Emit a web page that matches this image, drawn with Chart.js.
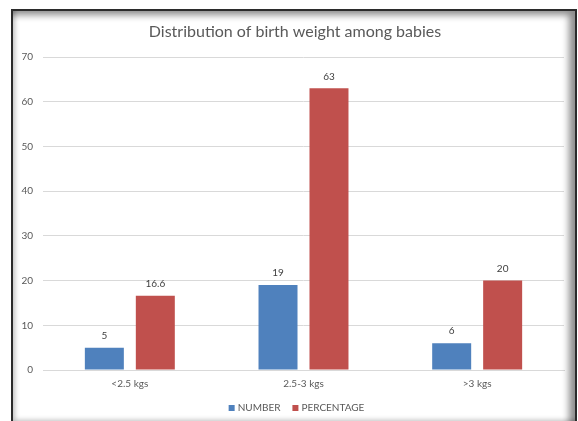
<!DOCTYPE html>
<html>
<head>
<meta charset="utf-8">
<script src="https://cdn.jsdelivr.net/npm/chart.js@4"></script>
<style>
  html, body { margin: 0; padding: 0; background: #fff; }
  #wrap { position: relative; width: 578px; height: 421px; overflow: hidden; }
  #c { position: absolute; left: 0; top: 0; }
  #frame {
    position: absolute; left: 11px; top: 9px; width: 562px; height: 411px;
    border: 2px solid #2b2b2b;
    box-shadow: inset -8px 6px 7px -2px rgba(0,0,0,0.45), inset 4px -4px 5px -2px rgba(0,0,0,0.25);
    pointer-events: none;
  }
</style>
</head>
<body>
<div id="wrap">
  <canvas id="c" width="578" height="421"></canvas>
  <div id="frame"></div>
</div>
<script>
// Birth weight groups and the two measured series
const categories = ['<2.5 kgs', '2.5-3 kgs', '>3 kgs'];
const numberValues = [5, 19, 6];
const percentageValues = [16.6, 63, 20];
const seriesNames = ['NUMBER', 'PERCENTAGE'];
const yTicks = [0, 10, 20, 30, 40, 50, 60, 70];
const chartTitle = 'Distribution of birth weight among babies';

const FONT = 'Lato, "Open Sans", sans-serif';
const TEXT = '#595959';

// Heading centred on the framed panel
const panelTitle = {
  id: 'panelTitle',
  afterDraw(chart) {
    const ctx = chart.ctx;
    ctx.save();
    ctx.font = '16px ' + FONT;
    ctx.fillStyle = TEXT;
    ctx.textAlign = 'center';
    ctx.textBaseline = 'middle';
    ctx.fillText(chartTitle, 295, 32);
    ctx.restore();
  }
};

// Compact legend row under the axis: small square swatch, then the series name
const bottomLegend = {
  id: 'bottomLegend',
  afterDraw(chart) {
    const ctx = chart.ctx;
    const box = 6, gap = 3, spacing = 12, cy = 408;
    ctx.save();
    ctx.font = '10px ' + FONT;
    ctx.textBaseline = 'middle';
    ctx.textAlign = 'left';
    const items = chart.data.datasets.map(ds => ({
      text: ds.label, color: ds.backgroundColor, w: ctx.measureText(ds.label).width
    }));
    const total = items.reduce((s, it) => s + box + gap + it.w, 0) + spacing * (items.length - 1);
    let x = 296.5 - total / 2;
    items.forEach(it => {
      ctx.fillStyle = it.color;
      ctx.fillRect(x, cy - box / 2, box, box);
      ctx.fillStyle = TEXT;
      ctx.fillText(it.text, x + box + gap, cy);
      x += box + gap + it.w + spacing;
    });
    ctx.restore();
  }
};

// Writes each bar's value just above it
const valueLabels = {
  id: 'valueLabels',
  afterDatasetsDraw(chart) {
    const ctx = chart.ctx;
    ctx.save();
    ctx.font = '10px ' + FONT;
    ctx.fillStyle = '#404040';
    ctx.textAlign = 'center';
    ctx.textBaseline = 'middle';
    chart.data.datasets.forEach((ds, i) => {
      chart.getDatasetMeta(i).data.forEach((el, j) => {
        ctx.fillText(String(ds.data[j]), el.x, el.y - 12);
      });
    });
    ctx.restore();
  }
};

new Chart(document.getElementById('c'), {
  type: 'bar',
  data: {
    labels: categories,
    datasets: [
      { label: seriesNames[0], data: numberValues, backgroundColor: '#4F81BD' },
      { label: seriesNames[1], data: percentageValues, backgroundColor: '#C0504D' }
    ]
  },
  options: {
    responsive: false,
    animation: false,
    layout: { padding: { top: 57, right: 14, bottom: 22, left: 0 } },
    datasets: { bar: { categoryPercentage: 0.587, barPercentage: 0.765 } },
    plugins: {
      title: { display: false },
      legend: { display: false },
      tooltip: { enabled: false }
    },
    scales: {
      x: {
        grid: { display: false },
        border: { color: '#D9D9D9' },
        ticks: { color: TEXT, font: { family: FONT, size: 10 }, padding: 0 },
        afterFit(scale) { scale.height = 29; }
      },
      y: {
        min: 0,
        max: 70,
        afterBuildTicks(scale) { scale.ticks = yTicks.map(v => ({ value: v })); },
        grid: { color: '#D9D9D9', drawTicks: false },
        border: { display: false },
        ticks: { color: TEXT, font: { family: FONT, size: 10 }, padding: 10 },
        afterFit(scale) { scale.width = 43; }
      }
    }
  },
  plugins: [valueLabels, panelTitle, bottomLegend]
});
</script>
</body>
</html>
